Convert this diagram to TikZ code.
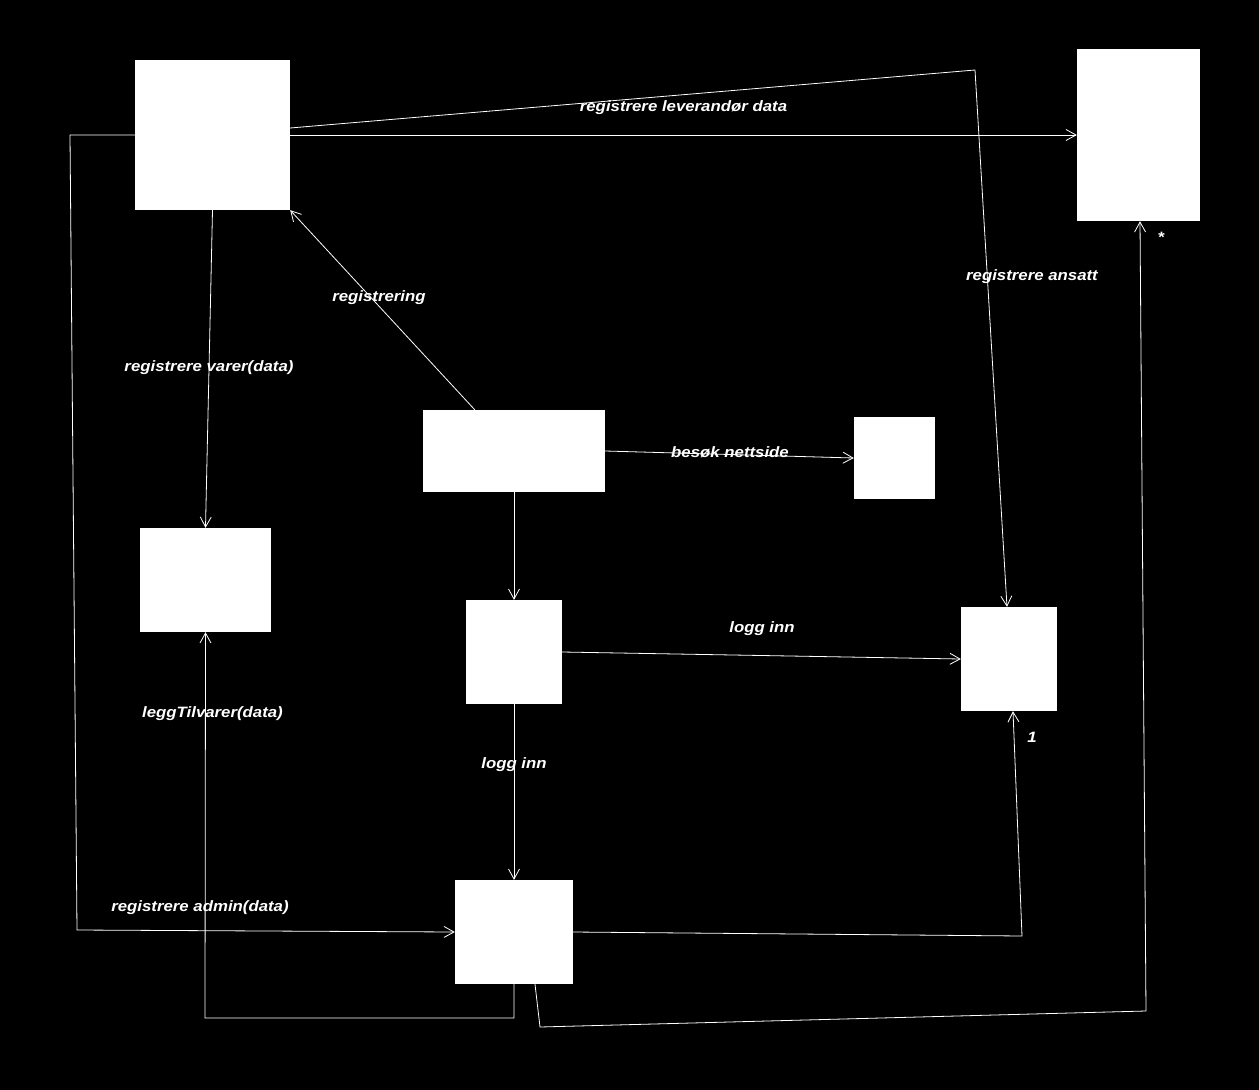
\documentclass[tikz,border=0pt]{standalone}
\usepackage{fontspec}
\setmainfont{Liberation Sans}
\newfontfamily\lblfont[FakeStretch=1.12]{Liberation Sans}
\usetikzlibrary{arrows.meta}

\begin{document}
\begin{tikzpicture}[
  x=1pt, y=-1pt,
  obj/.style={rectangle, fill=white, draw=none, inner sep=0pt},
  arrow/.style={-{Straight Barb[length=10pt, width=11pt]}, white, line width=0.8pt},
  lbl/.style={text=white, inner sep=1pt, font=\lblfont\fontsize{15}{18}\selectfont\bfseries\itshape}
]

  \fill[black] (0,0) rectangle (1259,1090);
  \useasboundingbox (0,0) rectangle (1259,1090);

  % Objects
  \node[obj, minimum width=155pt, minimum height=150pt] (admin) at (212.5,135) {};
  \node[obj, minimum width=123pt, minimum height=172pt] (leverandor) at (1138.5,135) {};
  \node[obj, minimum width=182pt, minimum height=82pt] (bruker) at (514,451) {};
  \node[obj, minimum width=81pt, minimum height=82pt] (nettside) at (894.5,458) {};
  \node[obj, minimum width=131pt, minimum height=104pt] (varer) at (205.5,580) {};
  \node[obj, minimum width=96pt, minimum height=104pt] (login) at (514,652) {};
  \node[obj, minimum width=96pt, minimum height=104pt] (ansatt) at (1009,659) {};
  \node[obj, minimum width=118pt, minimum height=104pt] (adminside) at (514,932) {};

  % Bends
  \coordinate (ansattTop) at (975,70);
  \coordinate (adminL1) at (70,135);
  \coordinate (adminL2) at (77,930);
  \coordinate (vareB1) at (514,1018);
  \coordinate (vareB2) at (205,1018);
  \coordinate (ansattB) at (1022,936);
  \coordinate (levB1) at (540,1027);
  \coordinate (levB2) at (1146,1011);

  % Messages
  \draw[arrow] (admin.east) -- (leverandor.west);
  \draw[arrow] ([yshift=7pt]admin.east) -- (ansattTop) -- ([xshift=-2pt]ansatt.north);
  \draw[arrow] ([xshift=52pt]bruker.north west) -- (admin.south east);
  \draw[arrow] (admin.south) -- (varer.north);
  \draw[arrow] (bruker.east) -- (nettside.west);
  \draw[arrow] (bruker.south) -- (login.north);
  \draw[arrow] (login.east) -- (ansatt.west);
  \draw[arrow] (login.south) -- (adminside.north);
  \draw[arrow] (admin.west) -- (adminL1) -- (adminL2) -- (adminside.west);
  \draw[arrow] (adminside.south) -- (vareB1) -- (vareB2) -- (varer.south);
  \draw[arrow] (adminside.east) -- (ansattB) -- ([xshift=4pt]ansatt.south);
  \draw[arrow] ([xshift=21pt]adminside.south) -- (levB1) -- (levB2) -- ([xshift=1.5pt]leverandor.south);

  % Labels
  \node[lbl] (lLev) at (683.5,108) {registrere leverandør data};
  \node[lbl] (lAnsatt) at (1032,277) {registrere ansatt};
  \node[lbl] (lReg) at (379,298) {registrering};
  \node[lbl] (lVarer) at (209,368) {registrere varer(data)};
  \node[lbl] (lBesok) at (730,452) {besøk nettside};
  \node[lbl] (lLogg1) at (762,629) {logg inn};
  \node[lbl] (lLogg2) at (514,765) {logg inn};
  \node[lbl] (lLegg) at (212.5,714) {leggTilvarer(data)};
  \node[lbl] (lAdmin) at (200,908) {registrere admin(data)};
  \node[lbl] (lEn) at (1032,737) {1};
  \node[lbl] (lStar) at (1161,237) {*};

\end{tikzpicture}
\end{document}
